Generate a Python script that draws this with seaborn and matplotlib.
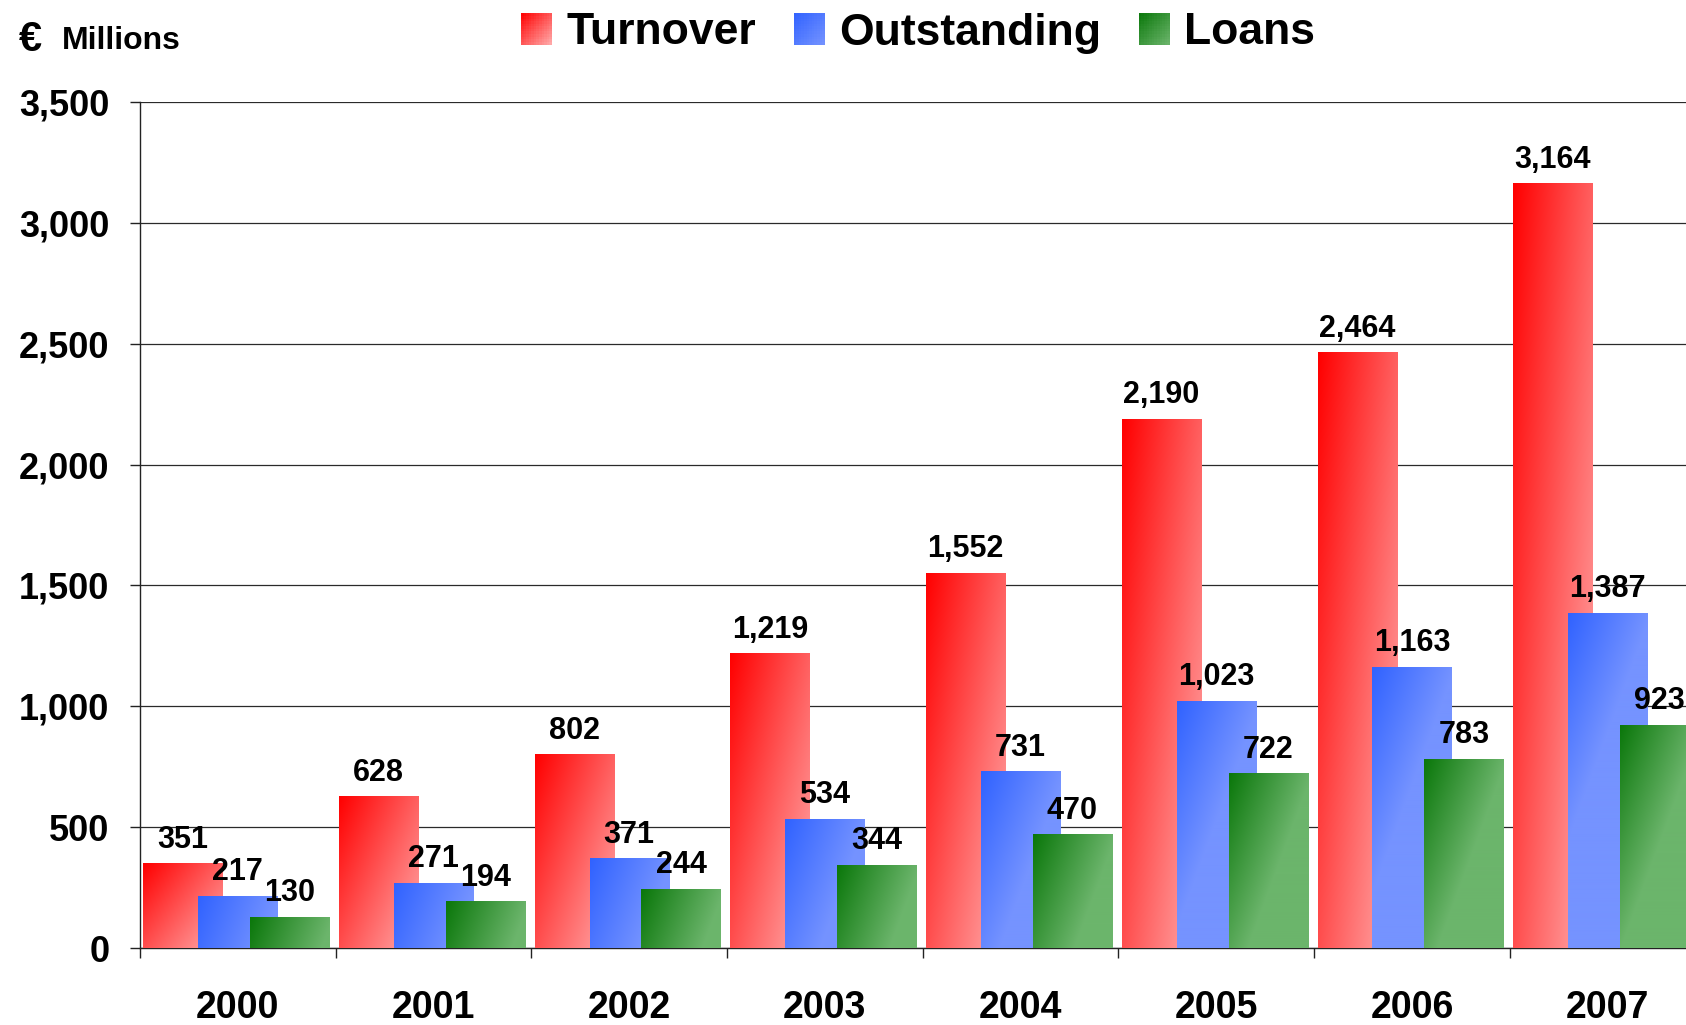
"""Turnover / outstanding / loans by year, overlapping gradient bars."""

import numpy as np
import pandas as pd
import matplotlib
matplotlib.use("Agg")
import matplotlib.pyplot as plt
import seaborn as sns
from matplotlib.colors import to_rgb
from matplotlib.patches import Rectangle
from matplotlib.legend_handler import HandlerBase

years = ["2000", "2001", "2002", "2003", "2004", "2005", "2006", "2007"]
series_names = ["Turnover", "Outstanding", "Loans"]
turnover = [351, 628, 802, 1219, 1552, 2190, 2464, 3164]
outstanding = [217, 271, 371, 534, 731, 1023, 1163, 1387]
loans = [130, 194, 244, 344, 470, 722, 783, 923]
y_ticks = [0, 500, 1000, 1500, 2000, 2500, 3000, 3500]

# gradient start (top-left) / end (bottom-right) per series
GRADS = {
    "Turnover": ("#FF0000", "#FFADAD"),
    "Outstanding": ("#3062FF", "#7593FF"),
    "Loans": ("#0A770A", "#6CB56C"),
}
OFFSETS = [-0.28, 0.0, 0.265]
BAR_W = 0.405
PX_PER_UNIT = 846 / 3500      # bar height pixels per value
BAR_W_PX = 79


def blend(c0, c1, t):
    a, b = np.array(to_rgb(c0)), np.array(to_rgb(c1))
    return a + (b - a) * t


def gradient_img(name, h_px, n=80):
    """Diagonal gradient; red spans the whole bar, blue/green saturate quickly."""
    c0, c1 = GRADS[name]
    ny = max(int(n * h_px / BAR_W_PX), 8)
    u = np.linspace(0, 1, n)[None, :]
    v = np.linspace(0, 1, ny)[:, None]
    if name == "Turnover":
        t = 0.55 * u + 0.45 * v
    else:
        vpx = v * h_px / BAR_W_PX   # vertical distance in bar widths
        t = np.clip(0.95 * u + 0.35 * vpx, 0, 1)
    a, b = np.array(to_rgb(c0)), np.array(to_rgb(c1))
    return a[None, None, :] + (b - a)[None, None, :] * t[:, :, None]


class GradientHandler(HandlerBase):
    """Legend square filled with a diagonal gradient."""

    def create_artists(self, legend, orig_handle, xdescent, ydescent,
                       width, height, fontsize, trans):
        c0, c1 = orig_handle.grad
        n = 12
        side = min(width, height)
        x0, y0 = -xdescent, -ydescent + (height - side) / 2
        arts = []
        for i in range(n):
            for j in range(n):
                t = ((i + 0.5) / n + (j + 0.5) / n) / 2
                r = Rectangle((x0 + i * side / n, y0 + side - (j + 1) * side / n),
                              side / n * 1.02, side / n * 1.02,
                              facecolor=blend(c0, c1, t), edgecolor="none",
                              transform=trans)
                arts.append(r)
        return arts


sns.set_theme(style="white")
plt.rcParams["font.family"] = ["Liberation Sans", "DejaVu Sans"]
plt.rcParams["font.weight"] = "bold"
plt.rcParams["text.color"] = "black"

df = pd.DataFrame({
    "Year": years * 3,
    "Value": turnover + outstanding + loans,
    "Series": [s for s in series_names for _ in years],
})

fig = plt.figure(figsize=(16.86, 10.25), dpi=100)
ax = fig.add_axes([0.083, 0.0751, 0.9286, 0.8254])

sns.barplot(data=df, x="Year", y="Value", hue="Series", hue_order=series_names,
            palette=[GRADS[s][0] for s in series_names], errorbar=None,
            dodge=True, legend=False, ax=ax)

for i, (name, cont) in enumerate(zip(series_names, ax.containers)):
    for j, bar in enumerate(cont.patches):
        h = bar.get_height()
        x0 = j + OFFSETS[i] - BAR_W / 2
        bar.set_x(x0)
        bar.set_width(BAR_W)
        bar.set_facecolor("none")
        bar.set_edgecolor("none")
        bar.set_zorder(3 + i)
        img = gradient_img(name, h * PX_PER_UNIT)
        im = ax.imshow(img, extent=[x0, x0 + BAR_W, 0, h], origin="upper",
                       aspect="auto", interpolation="bilinear", zorder=3 + i)
        im.set_clip_path(bar)
        ax.annotate(f"{h:,.0f}", (x0 + BAR_W / 2, h), xytext=(0, 17),
                    textcoords="offset points", ha="center", va="center",
                    fontsize=22, fontweight="bold", color="black", zorder=10)

ax.set_xlim(-0.5, 7.5)
ax.set_ylim(0, 3500)
ax.set_xticks(range(len(years)))
ax.set_xticklabels(years, fontsize=27, fontweight="bold")
ax.set_xticks(np.arange(-0.5, 8, 1), minor=True)
ax.set_yticks(y_ticks)
ax.set_yticklabels([f"{v:,}" for v in y_ticks], fontsize=26, fontweight="bold")
ax.set_xlabel("")
ax.set_ylabel("")

ax.tick_params(axis="x", which="major", length=0, pad=30, labelcolor="black")
ax.tick_params(axis="x", which="minor", length=7, width=1, color="#222222",
               direction="out", bottom=True)
ax.tick_params(axis="y", length=7, width=1, color="#222222", direction="out",
               left=True, pad=15, labelcolor="black")

ax.grid(True, axis="y", color="#2a2a2a", linewidth=0.9)
ax.set_axisbelow(True)
for side in ["top", "right"]:
    ax.spines[side].set_visible(False)
for side in ["left", "bottom"]:
    ax.spines[side].set_color("#222222")
    ax.spines[side].set_linewidth(1)

# legend with gradient squares
handles = []
for name in series_names:
    r = Rectangle((0, 0), 1, 1)
    r.grad = GRADS[name]
    handles.append(r)
fig.legend(handles, series_names, handler_map={h: GradientHandler() for h in handles},
           loc="center", bbox_to_anchor=(0.5445, 1 - 33 / 1025), ncol=3,
           frameon=False, prop={"size": 32, "weight": "bold"},
           handlelength=0.7, handleheight=0.7, handletextpad=0.32,
           columnspacing=0.85)

fig.text(19 / 1686, 1 - 40 / 1025, "€", fontsize=30, fontweight="bold",
         ha="left", va="center")
fig.text(62 / 1686, 1 - 41 / 1025, "Millions", fontsize=23, fontweight="bold",
         ha="left", va="center")

fig.savefig("out.png", dpi=100)
plt.close(fig)
